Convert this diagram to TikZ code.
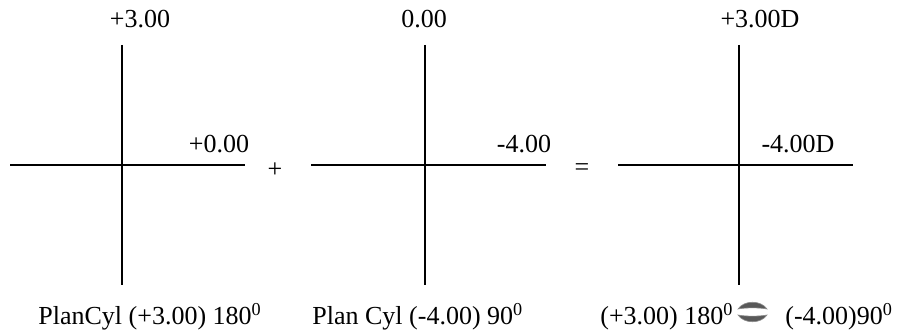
\documentclass[tikz,border=0pt]{standalone}
\usepackage{fontspec}
\setmainfont{Liberation Serif}
\usetikzlibrary{positioning}
\tikzset{
  axline/.style={line width=1pt, black},
  powlabel/.style={font=\fontsize{13}{15}\selectfont, inner sep=0pt, anchor=base},
  oplabel/.style={font=\fontsize{13}{15}\selectfont, inner sep=0pt},
  eqvsym/.style={fill=black!65, draw=black!45, line width=0.3pt},
}

\begin{document}
\begin{tikzpicture}[x=0.5pt,y=-0.5pt]
  \useasboundingbox (0,0) rectangle (899,331);
  % Cruz 1
  \coordinate (aW) at (10,165);  \coordinate (aE) at (245,165);
  \coordinate (aN) at (122,45);  \coordinate (aS) at (122,285);
  \draw[axline] (aW) -- (aE);
  \draw[axline] (aN) -- (aS);
  \node[powlabel] (aTop) at (140,28) {+3.00};
  \node[powlabel] (aSide) at (219,153) {+0.00};
  % Cruz 2
  \coordinate (bW) at (311,165); \coordinate (bE) at (546,165);
  \coordinate (bN) at (425,45);  \coordinate (bS) at (425,285);
  \draw[axline] (bW) -- (bE);
  \draw[axline] (bN) -- (bS);
  \node[powlabel] (bTop) at (424,28) {0.00};
  \node[powlabel] (bSide) at (524,153) {-4.00};
  % Cruz 3
  \coordinate (cW) at (618,165); \coordinate (cE) at (853,165);
  \coordinate (cN) at (739,45);  \coordinate (cS) at (739,285);
  \draw[axline] (cW) -- (cE);
  \draw[axline] (cN) -- (cS);
  \node[powlabel] (cTop) at (760,28) {+3.00D};
  \node[powlabel] (cSide) at (798,153) {-4.00D};
  % Operadores
  \node[oplabel] (plus) at (275,170) {+};
  \node[oplabel] (equals) at (582,170) {=};
  % Legendas
  \node[powlabel, anchor=base west] (aCap) at (38,324) {PlanCyl (+3.00) 180\textsuperscript{0}};
  \node[powlabel, anchor=base west] (bCap) at (312,324) {Plan Cyl (-4.00) 90\textsuperscript{0}};
  \node[powlabel, anchor=base west] (cCapL) at (600,324) {(+3.00) 180\textsuperscript{0}};
  \node[powlabel, anchor=base west] (cCapR) at (785,324) {(-4.00)90\textsuperscript{0}};
  % Simbolo
  \fill[eqvsym] (738,309) .. controls (744,300) and (761,300) .. (767,309)
    .. controls (760,307.5) and (745,307.5) .. cycle;
  \fill[eqvsym] (738,315) .. controls (745,316.5) and (760,316.5) .. (767,315)
    .. controls (761,324) and (744,324) .. cycle;
\end{tikzpicture}
\end{document}
